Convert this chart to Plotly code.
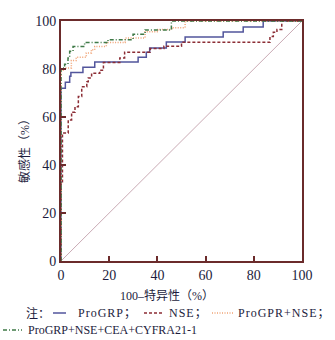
import plotly.graph_objects as go

# ---- data ----
progrp_x = [0, 0, 1.8, 3.6, 4.1, 9.1, 14.0, 32.0, 35.4, 36.8, 43.7, 51.5, 67.3, 75.6, 83.9, 100]
progrp_y = [0, 72, 74.5, 77, 78.5, 80.7, 82.9, 84.9, 87, 88.75, 91.2, 93.3, 95.4, 97.5, 100, 100]

nse_x = [0, 0, 0.6, 3.0, 4.4, 5.8, 7.2, 8.6, 10.7, 11.3, 12.7, 16.1, 17.6, 24.4, 26.4, 37.0, 42.7, 50.0, 86.7, 88.1, 89.6, 91.6, 100]
nse_y = [0, 33, 53.3, 58.8, 62, 64.3, 68.5, 72.6, 74.7, 76.3, 78.2, 79.5, 82.7, 84.6, 87, 88.5, 89.5, 91.1, 93.5, 95.3, 96.5, 100, 100]

combo2_x = [0, 0, 1.5, 4.3, 6.3, 10.5, 12.6, 14.0, 18.8, 26.6, 34.9, 40.2, 46.0, 51.5, 100]
combo2_y = [0, 79.5, 80.4, 83.5, 84.9, 86.7, 88, 89.4, 91, 92.9, 95.5, 96.5, 97.2, 100, 100]

combo4_x = [0, 0, 1.5, 2.9, 3.6, 5.0, 9.8, 19.5, 29.9, 34.9, 45.8, 100]
combo4_y = [0, 80.4, 82, 84.6, 87.4, 89.4, 91, 92.2, 94.5, 96.3, 100, 100]

ref_x = [0, 100]
ref_y = [0, 100]

tick_vals = [0, 20, 40, 60, 80, 100]
tick_text = ["0", "20", "40", "60", "80", "100"]

legend_names = ["ProGRP；", "NSE；", "ProGPR+NSE；", "ProGRP+NSE+CEA+CYFRA21-1"]

# ---- styles ----
AX = "#6b2b2b"
TXT = "#1c1c3c"
C_BLUE = "#52559c"
C_RED = "#8c2d35"
C_ORANGE = "#f0a274"
C_GREEN = "#3f7a47"
C_DIAG = "#c9aab4"
SERIF = "Liberation Serif, Times New Roman, Noto Sans CJK SC, serif"

fig = go.Figure()
fig.add_trace(go.Scatter(x=ref_x, y=ref_y, mode="lines",
                         line=dict(color=C_DIAG, width=1), showlegend=False))
fig.add_trace(go.Scatter(x=progrp_x, y=progrp_y, mode="lines", line_shape="hv",
                         line=dict(color=C_BLUE, width=1.5), showlegend=False))
fig.add_trace(go.Scatter(x=nse_x, y=nse_y, mode="lines", line_shape="hv",
                         line=dict(color=C_RED, width=1.5, dash="3px,2px"), showlegend=False))
fig.add_trace(go.Scatter(x=combo2_x, y=combo2_y, mode="lines", line_shape="hv",
                         line=dict(color=C_ORANGE, width=1.5, dash="1px,1.5px"), showlegend=False))
fig.add_trace(go.Scatter(x=combo4_x, y=combo4_y, mode="lines", line_shape="hv",
                         line=dict(color=C_GREEN, width=1.5, dash="4px,2px,1px,2px"), showlegend=False))

axis_common = dict(range=[0, 100], tickvals=tick_vals, ticktext=tick_text,
                   showgrid=False, zeroline=False, showline=True, mirror=True,
                   linecolor=AX, linewidth=2, ticks="inside", ticklen=5,
                   tickwidth=2, tickcolor=AX,
                   tickfont=dict(family=SERIF, size=14, color=TXT))
fig.update_xaxes(**axis_common)
fig.update_yaxes(**axis_common)


def px2x(px):
    return (px - 61) / 241


def py2y(py):
    return (261 - py) / 240


def spaced(s):
    # widen letter spacing slightly (reference first legend row is letter-spaced)
    return "\u200a".join(s)


# Axis titles
fig.add_annotation(text="100–特异性（%）", xref="paper", yref="paper",
                   x=px2x(167), y=py2y(295), xanchor="center", yanchor="middle",
                   showarrow=False, font=dict(family=SERIF, size=12, color=TXT))
fig.add_annotation(text="敏感性（%）", xref="paper", yref="paper",
                   x=px2x(24), y=py2y(148), xanchor="center", yanchor="middle",
                   showarrow=False, textangle=-90,
                   font=dict(family=SERIF, size=12, color=TXT))

# Manual legend
row1 = 313
row2 = 330
fig.add_annotation(text="注：", xref="paper", yref="paper", x=px2x(24), y=py2y(row1),
                   xanchor="left", yanchor="middle", showarrow=False,
                   font=dict(family=SERIF, size=12, color=TXT))
samples = [
    (53, 66, row1, C_BLUE, "solid", 76, spaced(legend_names[0])),
    (144, 163, row1, C_RED, "3px,2px", 167, spaced(legend_names[1])),
    (212, 233, row1, C_ORANGE, "1px,1.5px", 236, spaced(legend_names[2])),
    (3, 22, row2, C_GREEN, "4px,2px,1px,2px", 26, legend_names[3]),
]
for x0, x1, row, col, dash, tx, name in samples:
    fig.add_shape(type="line", xref="paper", yref="paper",
                  x0=px2x(x0), x1=px2x(x1), y0=py2y(row), y1=py2y(row),
                  line=dict(color=col, width=1.5, dash=dash))
    fig.add_annotation(text=name, xref="paper", yref="paper", x=px2x(tx), y=py2y(row),
                       xanchor="left", yanchor="middle", showarrow=False,
                       font=dict(family=SERIF, size=12, color=TXT))

fig.update_layout(width=335, height=340,
                  margin=dict(l=61, r=33, t=21, b=79),
                  plot_bgcolor="white", paper_bgcolor="white")
fig.write_html("out.html")
